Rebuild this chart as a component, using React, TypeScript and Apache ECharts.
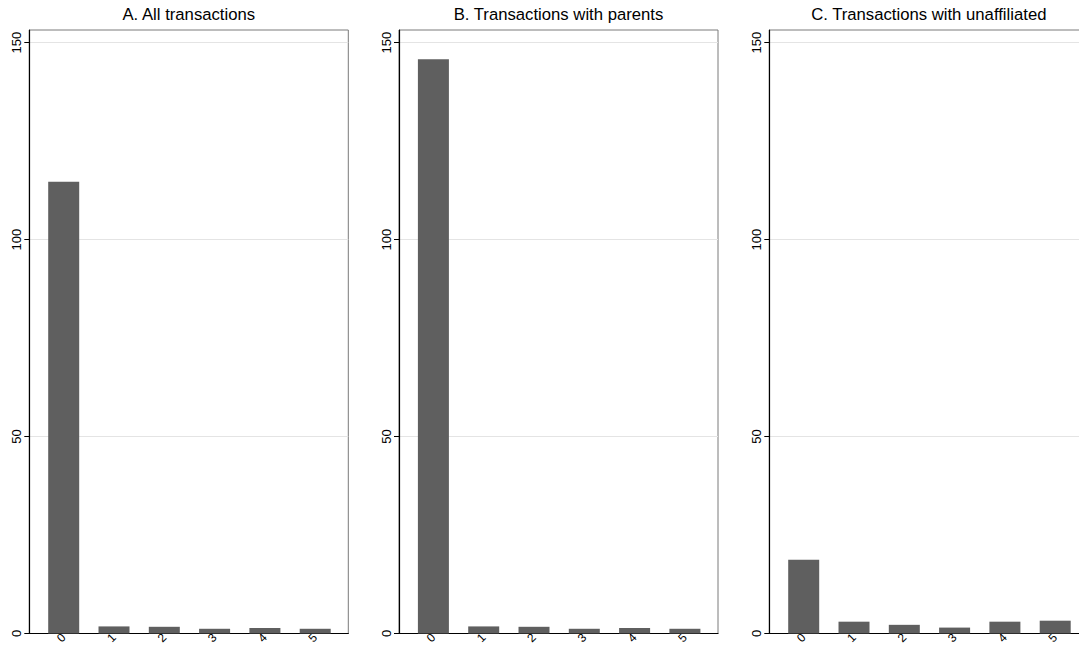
import React, { useEffect, useRef } from "react";
import * as echarts from "echarts";

const categories = [0, 1, 2, 3, 4, 5];
const allTransactions = [114.7, 1.8, 1.7, 1.2, 1.4, 1.2];
const parentTransactions = [145.8, 1.8, 1.7, 1.2, 1.4, 1.2];
const unaffiliatedTransactions = [18.7, 3.0, 2.2, 1.5, 3.0, 3.25];
const panelTitles = [
  "A. All transactions",
  "B. Transactions with parents",
  "C. Transactions with unaffiliated",
];
const yTicks = [0, 50, 100, 150];

const FONT = "Liberation Sans, Arial, Helvetica, sans-serif";

export default function App() {
  const ref = useRef<HTMLDivElement>(null);
  useEffect(() => {
    if (!ref.current) return;
    const chart = echarts.init(ref.current, null, { renderer: "svg" });
    const panels = [allTransactions, parentTransactions, unaffiliatedTransactions];
    const lefts = [29.3, 399, 769.3];
    const gridW = 319;
    const top = 30;
    const bottomY = 633.5;

    const grid = lefts.map((l) => ({
      left: l,
      top,
      width: gridW,
      height: bottomY - top,
      show: true,
      borderColor: "#7a7a7a",
      borderWidth: 1,
      backgroundColor: "transparent",
      containLabel: false,
      outerBoundsMode: "none",
    }));

    const xAxis = lefts.map((_, i) => ({
      type: "value",
      gridIndex: i,
      min: -0.684,
      max: 5.658,
      axisLine: { show: true, onZero: false, lineStyle: { color: "#000", width: 1.2 } },
      axisTick: { show: false, customValues: categories },
      splitLine: { show: false },
      axisLabel: {
        customValues: categories,
        rotate: 45,
        fontSize: 12,
        lineHeight: 12,
        color: "#000",
        fontFamily: FONT,
        margin: 2,
      },
    }));

    const yAxis = lefts.map((_, i) => ({
      type: "value",
      gridIndex: i,
      min: 0,
      max: 153.2,
      axisLine: { show: true, onZero: false, lineStyle: { color: "#000", width: 1.2 } },
      axisTick: { show: true, length: 5, customValues: yTicks, lineStyle: { color: "#000" } },
      splitLine: { show: true, lineStyle: { color: "#e4e4e4", width: 1 } },
      axisLabel: {
        customValues: yTicks,
        rotate: 90,
        fontSize: 13,
        color: "#000",
        fontFamily: FONT,
        margin: 6,
      },
    }));

    const series = panels.map((vals, i) => ({
      type: "bar",
      xAxisIndex: i,
      yAxisIndex: i,
      barWidth: 31,
      itemStyle: { color: "#5f5f5f" },
      data: categories.map((c, j) => [c, vals[j]]),
    }));

    const graphic = panelTitles.map((t, i) => ({
      type: "text",
      x: lefts[i] + gridW / 2,
      y: 14,
      style: {
        text: t,
        fontSize: 16.7,
        fontFamily: FONT,
        fill: "#000",
        textAlign: "center",
        textVerticalAlign: "middle",
      },
    }));

    chart.setOption({
      animation: false,
      backgroundColor: "#fff",
      grid,
      xAxis,
      yAxis,
      series,
      graphic,
    } as any);
    return () => chart.dispose();
  }, []);
  return (
    <div
      ref={ref}
      style={{ position: "fixed", left: 0, top: 0, width: 1079, height: 646 }}
    />
  );
}
